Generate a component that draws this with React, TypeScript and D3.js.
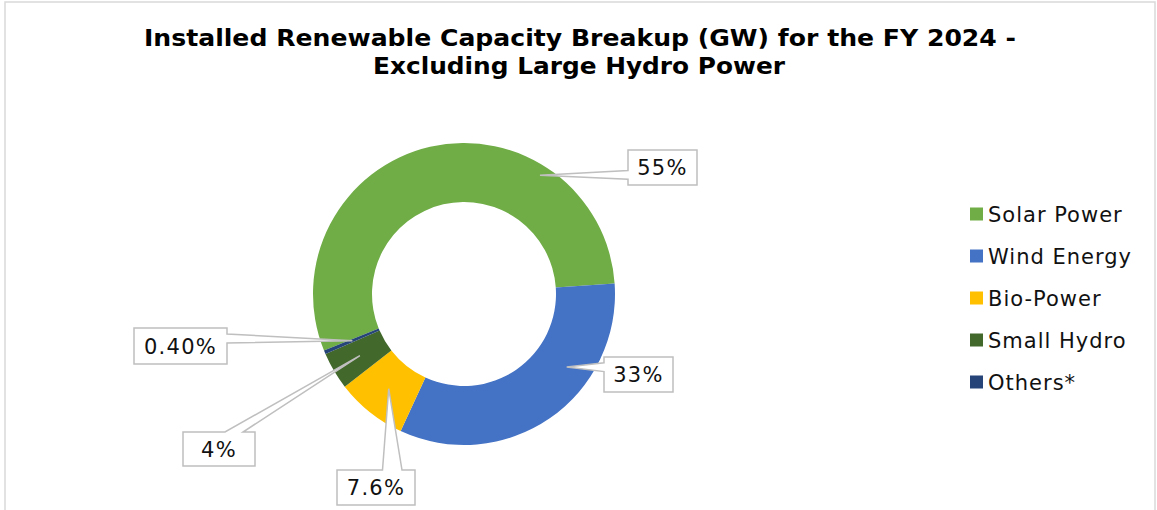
import React from "react";
import * as d3 from "d3";

const categories = ["Solar Power", "Wind Energy", "Bio-Power", "Small Hydro", "Others*"];
const shares = [55, 33, 7.6, 4, 0.4];
const labelTexts = ["55%", "33%", "7.6%", "4%", "0.40%"];
const colors = ["#70AD47", "#4472C4", "#FFC000", "#43682B", "#264478"];

// layout of the callout boxes (box centre, size) and tip placement
const labelLayout = [
  { bx: 662.5, by: 167.5, w: 69, h: 35, tipOff: 45.6, tipR: 141 },
  { bx: 638.5, by: 374.5, w: 69, h: 35, tipOff: -20, tipR: 126 },
  { bx: 376, by: 487.5, w: 78, h: 35, tipOff: 0, tipR: 121 },
  { bx: 219, by: 449, w: 72, h: 34, tipOff: 0, tipR: 121 },
  { bx: 180.5, by: 346, w: 93, h: 36, tipOff: 0, tipR: 121 },
];

const W = 1157;
const H = 510;
const CX = 464;
const CY = 294;
const R_OUT = 151;
const R_IN = 92;
const START = (248 * Math.PI) / 180;

function calloutPath(l: number, t: number, w: number, h: number, x: number, y: number) {
  const r = l + w, b = t + h;
  const hc = l + w / 2, vc = t + h / 2;
  const dx = x - hc, dy = y - vc;
  const dq = (dx * h) / w;
  const dz = Math.abs(dy) - Math.abs(dq);
  const xl = l + (w * (dx > 0 ? 7 : 2)) / 12;
  const xr = l + (w * (dx > 0 ? 10 : 5)) / 12;
  const yt = t + (h * (dy > 0 ? 7 : 2)) / 12;
  const yb = t + (h * (dy > 0 ? 10 : 5)) / 12;
  const p = d3.path();
  if (dz > 0) {
    if (dy < 0) {
      p.moveTo(l, t); p.lineTo(xl, t); p.lineTo(x, y); p.lineTo(xr, t); p.lineTo(r, t);
      p.lineTo(r, b); p.lineTo(l, b); p.closePath();
    } else {
      p.moveTo(l, t); p.lineTo(r, t); p.lineTo(r, b); p.lineTo(xr, b); p.lineTo(x, y);
      p.lineTo(xl, b); p.lineTo(l, b); p.closePath();
    }
  } else {
    if (dx < 0) {
      p.moveTo(l, t); p.lineTo(r, t); p.lineTo(r, b); p.lineTo(l, b); p.lineTo(l, yb);
      p.lineTo(x, y); p.lineTo(l, yt); p.closePath();
    } else {
      p.moveTo(l, t); p.lineTo(r, t); p.lineTo(r, yt); p.lineTo(x, y); p.lineTo(r, yb);
      p.lineTo(r, b); p.lineTo(l, b); p.closePath();
    }
  }
  return p.toString();
}

export default function App() {
  const pie = d3
    .pie<number>()
    .sort(null)
    .value((d) => d)
    .startAngle(START)
    .endAngle(START + 2 * Math.PI);
  const arcs = pie(shares);
  const arc = d3.arc<d3.PieArcDatum<number>>().innerRadius(R_IN).outerRadius(R_OUT);

  const legendY = d3.scalePoint<string>().domain(categories).range([214, 382]);

  return (
    <svg
      width={W}
      height={H}
      style={{ position: "absolute", left: 0, top: 0, background: "#fff" }}
      fontFamily="'DejaVu Sans', Verdana, sans-serif"
    >
      <rect x={5} y={2} width={1150} height={540} fill="#fff" stroke="#d9d9d9" strokeWidth={1.5} />
      <text x={580} y={46} textAnchor="middle" fontSize={22.5} fontWeight="bold" fill="#000"
        textLength={872} lengthAdjust="spacingAndGlyphs">
        Installed Renewable Capacity Breakup (GW) for the FY 2024 -
      </text>
      <text x={579} y={74} textAnchor="middle" fontSize={22.5} fontWeight="bold" fill="#000"
        textLength={412} lengthAdjust="spacingAndGlyphs">
        Excluding Large Hydro Power
      </text>

      <g transform={`translate(${CX},${CY})`}>
        {arcs.map((a, i) => (
          <path key={i} d={arc(a) || ""} fill={colors[i]} />
        ))}
      </g>

      {arcs.map((a, i) => {
        const L = labelLayout[i];
        const mid = (a.startAngle + a.endAngle) / 2 + (L.tipOff * Math.PI) / 180;
        const tx = CX + L.tipR * Math.sin(mid);
        const ty = CY - L.tipR * Math.cos(mid);
        const l = L.bx - L.w / 2;
        const t = L.by - L.h / 2;
        return (
          <g key={i}>
            <path d={calloutPath(l, t, L.w, L.h, tx, ty)} fill="#fff" stroke="#bfbfbf" strokeWidth={1.5} />
            <text x={L.bx} y={L.by + 7.5} textAnchor="middle" fontSize={21} letterSpacing={1.3} fill="#111">
              {labelTexts[i]}
            </text>
          </g>
        );
      })}

      {categories.map((c, i) => (
        <g key={c}>
          <rect x={970} y={(legendY(c) as number) - 6.5} width={13} height={13} fill={colors[i]} />
          <text x={988} y={(legendY(c) as number) + 8} fontSize={21} letterSpacing={1.0} fill="#111">
            {c}
          </text>
        </g>
      ))}
    </svg>
  );
}
